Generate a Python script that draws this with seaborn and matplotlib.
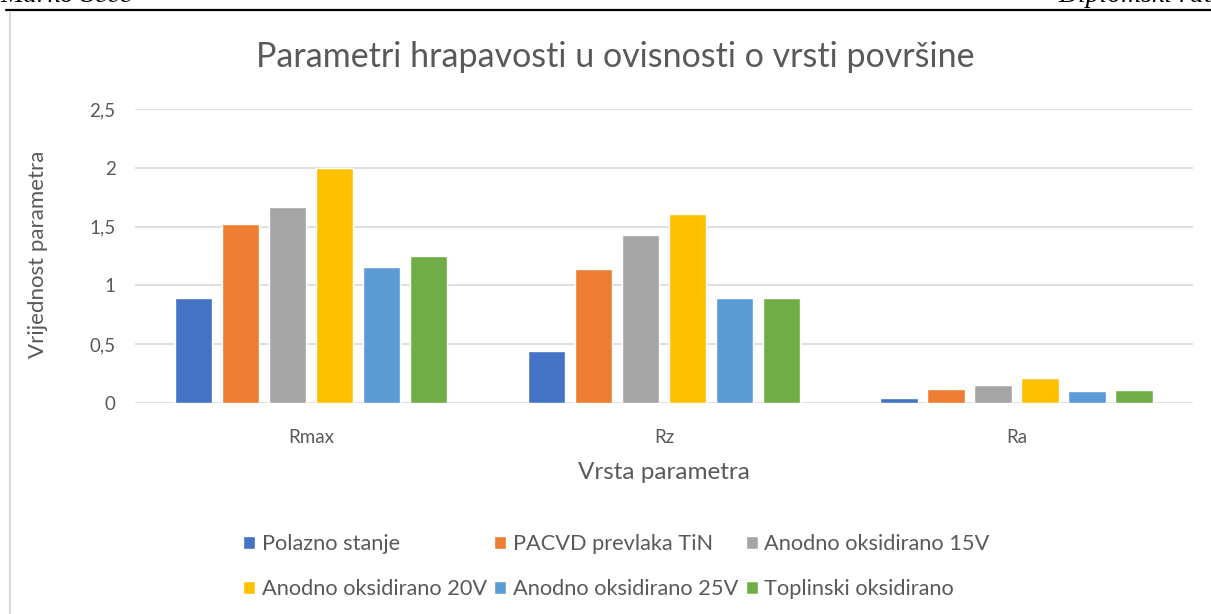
import matplotlib
matplotlib.use('Agg')
import matplotlib.pyplot as plt
from matplotlib.lines import Line2D
import pandas as pd
import seaborn as sns

# Podaci ocitani s grafa
parametri = ['Rmax', 'Rz', 'Ra']
uzorci = ['Polazno stanje', 'PACVD prevlaka TiN', 'Anodno oksidirano 15V',
          'Anodno oksidirano 20V', 'Anodno oksidirano 25V', 'Toplinski oksidirano']
polazno = [0.89, 0.44, 0.04]
pacvd = [1.52, 1.14, 0.12]
anodno_15 = [1.67, 1.43, 0.155]
anodno_20 = [2.00, 1.61, 0.21]
anodno_25 = [1.16, 0.895, 0.10]
toplinski = [1.25, 0.89, 0.11]
y_ticks = [0, 0.5, 1, 1.5, 2, 2.5]
y_tick_labels = ['0', '0,5', '1', '1,5', '2', '2,5']

boje = ['#4472C4', '#ED7D31', '#A5A5A5', '#FFC000', '#5B9BD5', '#70AD47']
tekst = '#595959'
mreza = '#D9D9D9'

serije = [polazno, pacvd, anodno_15, anodno_20, anodno_25, toplinski]
rows = []
for uzorak, vrijednosti in zip(uzorci, serije):
    for p, v in zip(parametri, vrijednosti):
        rows.append({'parametar': p, 'uzorak': uzorak, 'vrijednost': v})
df = pd.DataFrame(rows)

sns.set_theme(style='white')
plt.rcParams['font.family'] = ['Lato', 'DejaVu Sans']

fig = plt.figure(figsize=(12.11, 6.14), dpi=100)
ax = fig.add_axes([0.1115, 0.3436, 0.8735, 0.4789])

sns.barplot(data=df, x='parametar', y='vrijednost', hue='uzorak',
            hue_order=uzorci, order=parametri, palette=boje,
            width=0.8, gap=0.21, saturation=1, ax=ax)

ax.set_xlim(-0.5, 2.5)
ax.set_ylim(0, 2.5)
ax.set_yticks(y_ticks)
ax.set_yticklabels(y_tick_labels)
ax.yaxis.grid(True, color=mreza, linewidth=1.2)
ax.set_axisbelow(True)
for s in ax.spines.values():
    s.set_visible(False)
ax.tick_params(axis='both', length=0, labelsize=13.5, colors=tekst)
ax.tick_params(axis='x', pad=19)
ax.tick_params(axis='y', pad=14)
ax.set_xlabel('')
ax.set_ylabel('')

# legenda red po red (matplotlib puni stupce)
handles, labels = ax.get_legend_handles_labels()
ax.get_legend().remove()
redoslijed = [0, 3, 1, 4, 2, 5]
fig.legend([handles[i] for i in redoslijed], [labels[i] for i in redoslijed],
           loc='center', bbox_to_anchor=(0.509, 0.077),
           ncol=3, frameon=False, fontsize=15.7, labelcolor=tekst,
           handlelength=0.55, handleheight=0.55, handletextpad=0.3,
           columnspacing=0.35, labelspacing=1.15)

fig.text(0.508, 0.907, 'Parametri hrapavosti u ovisnosti o vrsti površine',
         ha='center', va='center', fontsize=24.5, color=tekst)
fig.text(0.548, 0.23, 'Vrsta parametra', ha='center', va='center',
         fontsize=17.5, color=tekst)
fig.text(0.031, 0.585, 'Vrijednost parametra', ha='center', va='center',
         rotation=90, fontsize=16, color=tekst)

# zaglavlje stranice (odrezano kao na izvorniku)
fig.text(0.0, 0.996, 'Marko Šeće', ha='left', va='baseline', fontsize=20,
         style='italic', family='Liberation Serif', color='black')
fig.text(1.006, 0.996, 'Diplomski rad', ha='right', va='baseline', fontsize=20,
         style='italic', family='Liberation Serif', color='black')
fig.add_artist(Line2D([6 / 1211, 1.0], [1 - 9.5 / 614] * 2, color='black',
                      linewidth=1.6, transform=fig.transFigure))
fig.add_artist(Line2D([10 / 1211] * 2, [0, 1 - 12 / 614], color=mreza,
                      linewidth=1.5, transform=fig.transFigure))

fig.savefig('out.png', dpi=100, facecolor='white')
